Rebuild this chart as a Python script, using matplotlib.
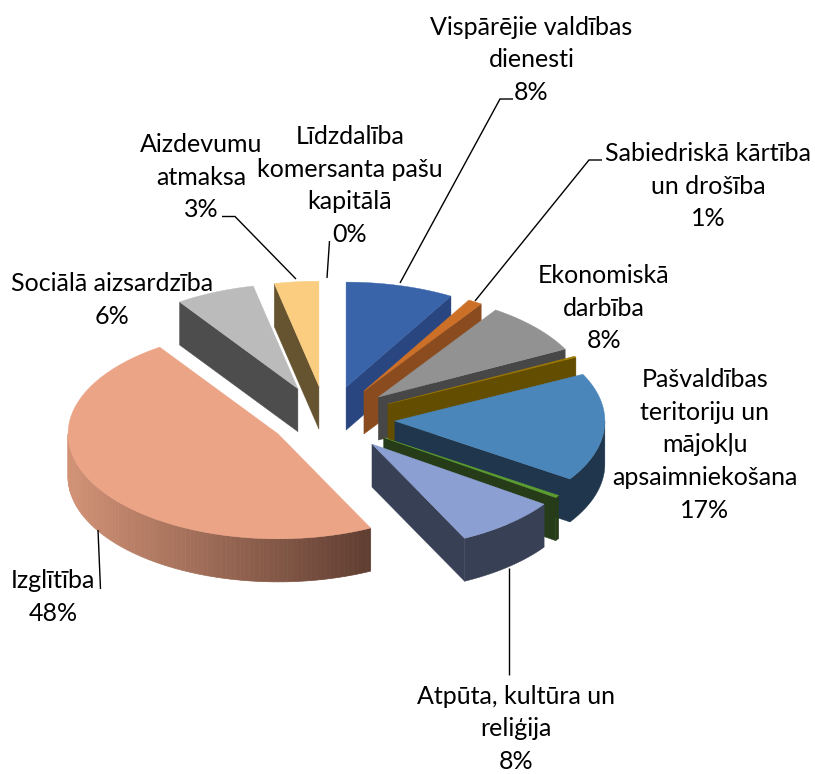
#!/usr/bin/env python3
import numpy as np
import matplotlib
matplotlib.use('Agg')
import matplotlib.pyplot as plt
from matplotlib.patches import Polygon
from matplotlib.colors import to_rgb

plt.rcParams['font.family'] = ['Lato', 'DejaVu Sans']

# data
categories = ['Vispārējie valdības\ndienesti', 'Sabiedriskā kārtība\nun drošība', 'Ekonomiskā\ndarbība', None,
              'Pašvaldības\nteritoriju un\nmājokļu\napsaimniekošana', None, 'Atpūta, kultūra un\nreliģija',
              'Izglītība', 'Sociālā aizsardzība', 'Aizdevumu\natmaksa', 'Līdzdalība\nkomersanta pašu\nkapitālā']
values = [8.3, 1.1, 8.0, 0.2, 16.6, 0.4, 8.0, 47.6, 6.1, 3.4, 0.0]

# styles, same order as the data
topColors = ['#3A64AA', '#CC7028', '#929292', '#A07A00', '#4A86BA', '#5C9C32', '#8C9FD2', '#ECA486', '#BBBBBB', '#FBCD80', '#FFFFFF']
sideColors = ['#2A4680', '#8A4B1F', '#474747', '#634D00', '#1F364C', '#263C18', '#384055', '#6A4538', '#4D4D4D', '#66532F', '#FFFFFF']
explode = [66, 66, 66, 66, 66, 66, 66, 59, 66, 66, 66]
nudgeX = [0, 0, 0, 0, 0, 0, 0, 0, -5, -3, 0]
labelPos = [(531.5, 34.6), (708, 161), (604, 283), None, (705, 387), None, (516, 703.5), (53, 588), (112, 291), (201.5, 152), (350, 144)]
leaders = [[(513, 99), (500, 99), (400, 283)],
           [(602, 160), (589, 160), (475, 301)],
           [(222, 216.5), (235, 216.5), (296, 279)],
           [(327, 278), (329.5, 241)],
           [(98, 530), (100.5, 589)],
           [(509, 568), (509, 675)]]

cx, cy = 329, 419
rx, ry = 210, 105
depth = 43
lineStep = 32.7

fig = plt.figure(figsize=(8.15, 7.74), dpi=100)
ax = fig.add_axes([0, 0, 1, 1])
ax.set_xlim(0, 815)
ax.set_ylim(774, 0)
ax.axis('off')


def rimPoints(apex, t):
	return apex[0] + rx*np.sin(t), apex[1] - ry*np.cos(t)


def drawWedge(apex, t0, t1, topColor, sideColor, gradient=False):
	# faces that look at the viewer first, the top goes last
	for t, visible in ((t0, np.sin(t0) < 0), (t1, np.sin(t1) > 0)):
		if visible:
			x, y = rimPoints(apex, t)
			ax.add_patch(Polygon([apex, (x, y), (x, y+depth), (apex[0], apex[1]+depth)], fc=sideColor, ec=sideColor, lw=0.3, zorder=z()))
	a0, a1 = max(t0, np.pi/2), min(t1, 1.5*np.pi)
	if a1 > a0:
		ts = np.linspace(a0, a1, 90)
		xs, ys = rimPoints(apex, ts)
		if gradient:
			left = np.array(to_rgb('#D29276'))
			right = np.array(to_rgb('#5F3D31'))
			for i in range(len(ts)-1):
				f = (0.5*(xs[i]+xs[i+1]) - xs.min())/(xs.max()-xs.min())
				col = left + (right-left)*f
				quad = [(xs[i], ys[i]), (xs[i+1], ys[i+1]), (xs[i+1], ys[i+1]+depth), (xs[i], ys[i]+depth)]
				ax.add_patch(Polygon(quad, fc=col, ec=col, lw=0.5, zorder=z()))
		else:
			pts = list(zip(xs, ys)) + list(zip(xs[::-1], ys[::-1]+depth))
			ax.add_patch(Polygon(pts, fc=sideColor, ec=sideColor, lw=0.3, zorder=z()))
	ts = np.linspace(t0, t1, 60)
	xs, ys = rimPoints(apex, ts)
	ax.add_patch(Polygon([apex]+list(zip(xs, ys)), fc=topColor, ec=topColor, lw=0.3, zorder=z()))


counter = [1]


def z():
	counter[0] += 1
	return 1 + counter[0]*0.001


total = sum(values)
edges = np.radians(np.concatenate([[0], np.cumsum(values)])/total*360)
mids = 0.5*(edges[:-1]+edges[1:])

# back wedges first
for i in np.argsort(-np.cos(mids)):
	if values[i] <= 0:
		continue
	apex = (cx + nudgeX[i] + explode[i]*np.sin(mids[i]), cy - explode[i]*0.5*np.cos(mids[i]))
	drawWedge(apex, edges[i], edges[i+1], topColors[i], sideColors[i], gradient=(i == 7))

for pts in leaders:
	xs, ys = zip(*pts)
	ax.plot(xs, ys, color='black', lw=1.0, zorder=5, solid_capstyle='butt', solid_joinstyle='miter')

for name, val, pos in zip(categories, values, labelPos):
	if name is None:
		continue
	lines = name.split('\n') + ['%d%%' % round(val)]
	for k, line in enumerate(lines):
		ax.text(pos[0], pos[1]+k*lineStep, line, ha='center', va='baseline', fontsize=18, color='black', zorder=6)

fig.savefig('out.png', dpi=100)
